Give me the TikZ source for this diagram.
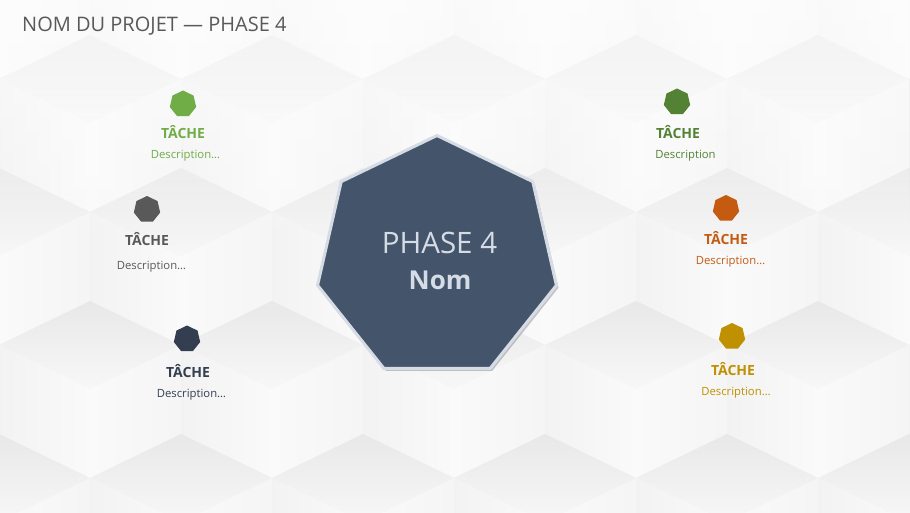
\documentclass[tikz,border=0pt]{standalone}
\usepackage{fontspec}
\setmainfont{Open Sans}
\usetikzlibrary{shapes.geometric, shadows, fadings}
\definecolor{slate}{HTML}{44546A}
\definecolor{slateedge}{HTML}{D6DCE5}
\definecolor{titlegray}{HTML}{595959}
\definecolor{leaf}{HTML}{70AD47}
\definecolor{moss}{HTML}{548235}
\definecolor{rust}{HTML}{C55A11}
\definecolor{ochre}{HTML}{BF9000}
\definecolor{ash}{HTML}{595959}
\definecolor{navy}{HTML}{333F50}
\definecolor{bgbase}{HTML}{F4F4F4}

\begin{document}
\begin{tikzpicture}[x=1pt, y=-1pt,
    hepta/.style={regular polygon, regular polygon sides=7, minimum size=27pt, inner sep=0pt, fill=#1},
    tasktitle/.style={text=#1, font=\fontsize{14}{16}\selectfont\bfseries, inner sep=0pt},
    taskdesc/.style={text=#1, font=\fontsize{11.3}{14}\selectfont, inner sep=0pt}]
    \def\cw{91}   % half width of one cube
    \def\ch{44}   % rise of a top face
    \def\cv{89}   % vertical edge of a cube
    \useasboundingbox (0,0) rectangle (910,512);
    \fill[bgbase] (0,0) rectangle (910,512);
    % cube pattern
    \begin{scope}
        \clip (0,0) rectangle (910,512);
        \foreach \r in {-1,...,4} {
            \foreach \k in {-1,...,5} {
                \pgfmathsetmacro\px{90 + 182*\k + 91*mod(\r+2,2)}
                \pgfmathsetmacro\py{35 + 133*\r}
                \shade[top color=black!9, bottom color=black!3] (\px,\py) -- ++(\cw,\ch) -- ++(-\cw,\ch) -- ++(-\cw,-\ch) -- cycle;
                \shade[left color=black!5, right color=black!2] ({\px-\cw},{\py+\ch}) -- (\px,{\py+2*\ch}) -- ++(0,\cv) -- ({\px-\cw},{\py+\ch+\cv}) -- cycle;
                \shade[left color=black!2, right color=black!4] ({\px+\cw},{\py+\ch}) -- (\px,{\py+2*\ch}) -- ++(0,\cv) -- ({\px+\cw},{\py+\ch+\cv}) -- cycle;
            }
        }
        \fill[white, opacity=0.6, path fading=south] (0,0) rectangle (910,260);
    \end{scope}
    % title
    \node[anchor=base west, inner sep=0pt, text=titlegray, font=\fontsize{20}{24}\selectfont] (title) at (22,31) {NOM DU PROJET — PHASE 4};
    % central phase
    \node[regular polygon, regular polygon sides=7, minimum size=245pt, inner sep=0pt, fill=slate, draw=slateedge, line width=3pt,
        drop shadow={shadow xshift=2pt, shadow yshift=-2.5pt, opacity=0.45}] (phase) at (437,258) {};
    \node[text=slateedge, inner sep=0pt, font=\fontsize{29.5}{32}\selectfont] (phaselbl) at (439.5,243) {PHASE 4};
    \node[text=slateedge, inner sep=0pt, font=\fontsize{26}{30}\selectfont\bfseries] (namelbl) at (440,280) {Nom};
    % tasks
    \foreach \n/\hx/\hy/\tx/\ty/\dx/\dy/\col/\txt in {
        a/183/104/183/132/185.5/156/leaf/Description…,
        b/147/209.5/147/239/151.5/267/ash/Description…,
        c/187/339/188/371/191.5/395/navy/Description…,
        d/677/102/678/132/685.5/156/moss/Description,
        e/726/208.5/726/238/730.5/262/rust/Description…,
        f/732/336.5/733/369/736/393/ochre/Description…} {
        \node[hepta=\col] (\n) at (\hx,\hy) {};
        \node[tasktitle=\col] (\n title) at (\tx,\ty) {TÂCHE};
        \node[taskdesc=\col] (\n desc) at (\dx,\dy) {\txt};
    }
\end{tikzpicture}
\end{document}
